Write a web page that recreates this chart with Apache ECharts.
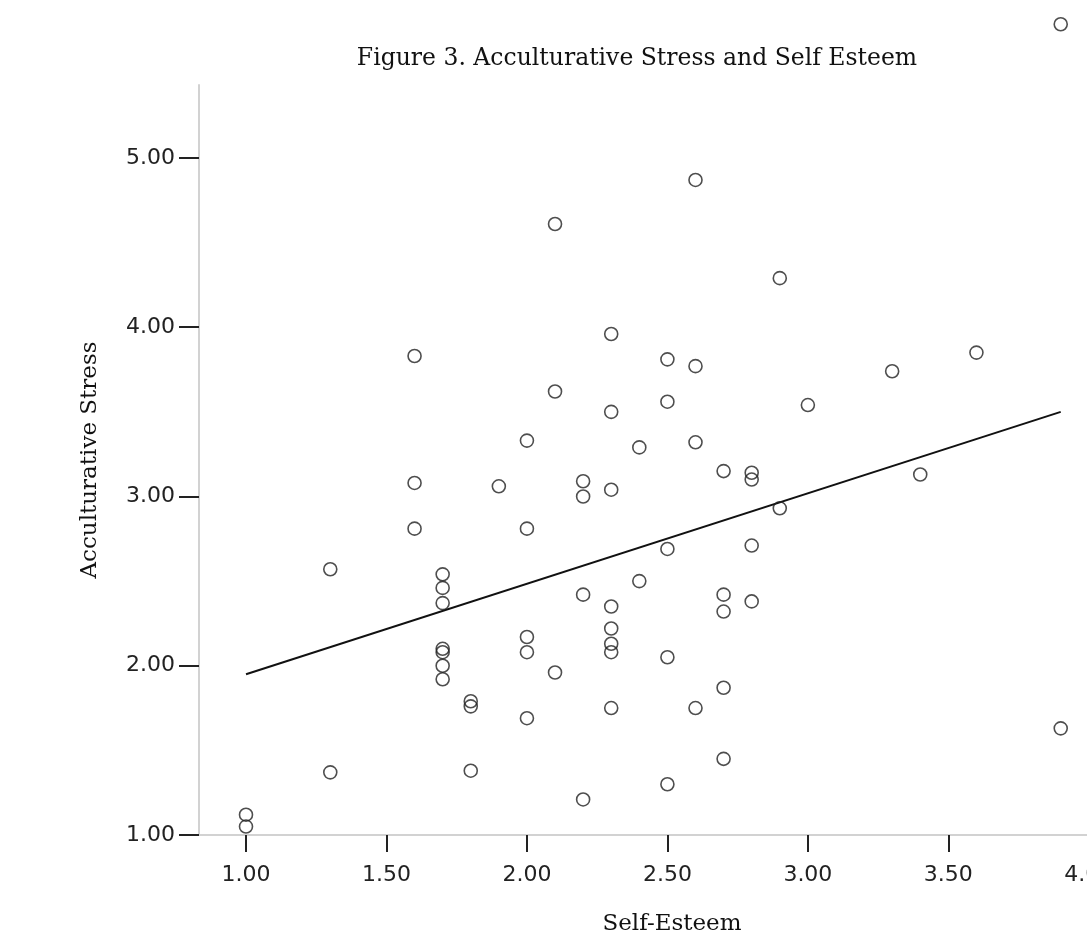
<!DOCTYPE html>
<html>
<head>
<meta charset="utf-8">
<script src="https://cdn.jsdelivr.net/npm/echarts@6/dist/echarts.min.js"></script>
<style>
html,body{margin:0;padding:0;background:#fff;}
#chart{width:1087px;height:934px;}
</style>
</head>
<body>
<div id="chart"></div>
<script>
// Self-Esteem (x) values
var selfEsteem = [
  1.0, 1.0,
  1.3, 1.3,
  1.6, 1.6, 1.6,
  1.7, 1.7, 1.7, 1.7, 1.7, 1.7, 1.7,
  1.8, 1.8, 1.8,
  1.9,
  2.0, 2.0, 2.0, 2.0, 2.0,
  2.1, 2.1, 2.1,
  2.2, 2.2, 2.2, 2.2,
  2.3, 2.3, 2.3, 2.3, 2.3, 2.3, 2.3, 2.3,
  2.4, 2.4,
  2.5, 2.5, 2.5, 2.5, 2.5,
  2.6, 2.6, 2.6, 2.6,
  2.7, 2.7, 2.7, 2.7, 2.7,
  2.8, 2.8, 2.8, 2.8,
  2.9, 2.9,
  3.0,
  3.3,
  3.4,
  3.6,
  3.9,
  3.9
];
// Acculturative Stress (y) values
var accStress = [
  1.12, 1.05,
  2.57, 1.37,
  3.83, 3.08, 2.81,
  2.54, 2.46, 2.37, 2.10, 2.08, 2.00, 1.92,
  1.79, 1.76, 1.38,
  3.06,
  3.33, 2.81, 2.17, 2.08, 1.69,
  4.61, 3.62, 1.96,
  3.09, 3.00, 2.42, 1.21,
  3.96, 3.50, 3.04, 2.35, 2.22, 2.13, 2.08, 1.75,
  3.29, 2.50,
  3.81, 3.56, 2.69, 2.05, 1.30,
  4.87, 3.77, 3.32, 1.75,
  3.15, 2.42, 2.32, 1.87, 1.45,
  3.14, 3.10, 2.71, 2.38,
  4.29, 2.93,
  3.54,
  3.74,
  3.13,
  3.85,
  1.63,
  5.79
];
// Fit line endpoints
var fitX = [1.0, 3.9];
var fitY = [1.95, 3.50];
// Tick values
var xTicks = [1.0, 1.5, 2.0, 2.5, 3.0, 3.5, 4.0];
var yTicks = [1, 2, 3, 4, 5];

var pts = selfEsteem.map(function (x, i) { return [x, accStress[i]]; });
var fitPts = fitX.map(function (x, i) { return [x, fitY[i]]; });

var serif = '"DejaVu Serif", serif';
var sans = '"DejaVu Sans", sans-serif';

var chart = echarts.init(document.getElementById('chart'), null, {renderer: 'canvas'});
chart.setOption({
  animation: false,
  backgroundColor: '#ffffff',
  title: {
    text: 'Figure 3. Acculturative Stress and Self Esteem',
    left: 632,
    textAlign: 'center',
    top: 42,
    textStyle: {fontFamily: serif, fontSize: 23.5, fontWeight: 'normal', color: '#111'}
  },
  grid: {left: 199, top: 85, width: 946, height: 750, containLabel: false, outerBoundsMode: 'none'},
  xAxis: {
    type: 'value',
    min: 0.8327,
    max: 4.2,
    name: 'Self-Esteem',
    nameLocation: 'middle',
    nameGap: 78,
    nameTextStyle: {fontFamily: serif, fontSize: 23, color: '#111'},
    axisLine: {show: true, onZero: false, lineStyle: {color: '#d2d2d2', width: 2}},
    axisTick: {show: true, customValues: xTicks, length: 17, lineStyle: {color: '#222', width: 2}},
    axisLabel: {
      customValues: xTicks, margin: 29,
      fontFamily: sans, fontSize: 22, color: '#222',
      formatter: function (v) { return v.toFixed(2); }
    },
    splitLine: {show: false}
  },
  yAxis: {
    type: 'value',
    min: 1,
    max: 5.431,
    name: 'Acculturative Stress',
    nameLocation: 'middle',
    nameGap: 97,
    nameTextStyle: {fontFamily: serif, fontSize: 23, color: '#111'},
    axisLine: {show: true, onZero: false, lineStyle: {color: '#d2d2d2', width: 2}},
    axisTick: {show: true, customValues: yTicks, length: 20, lineStyle: {color: '#222', width: 2}},
    axisLabel: {
      customValues: yTicks, margin: 24,
      fontFamily: sans, fontSize: 22, color: '#222',
      formatter: function (v) { return v.toFixed(2); }
    },
    splitLine: {show: false}
  },
  series: [
    {
      type: 'scatter',
      data: pts,
      clip: false,
      symbol: 'circle',
      symbolSize: 13,
      itemStyle: {color: 'rgba(255,255,255,0)', borderColor: '#222', borderWidth: 1.6}
    },
    {
      type: 'line',
      data: fitPts,
      showSymbol: false,
      symbol: 'none',
      lineStyle: {color: '#111', width: 2},
      z: 1
    }
  ]
});
</script>
</body>
</html>
